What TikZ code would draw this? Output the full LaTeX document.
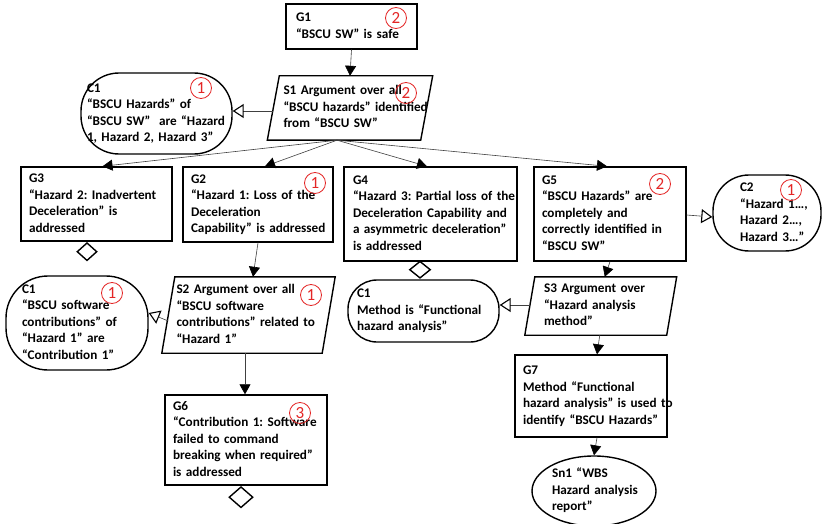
\documentclass[tikz,border=0pt]{standalone}
\usepackage{fontspec}
\setmainfont{Carlito}
\usetikzlibrary{arrows.meta,shapes.geometric}
\definecolor{badgered}{RGB}{228,38,38}
\frenchspacing
% one left-aligned block of lines, never re-wrapped
\newcommand\gsnlines[1]{\begin{tabular}{@{}l@{}}#1\end{tabular}}
\begin{document}
\begin{tikzpicture}[x=1pt,y=-1pt,
  txt/.style={font=\fontsize{13.2}{16.5}\selectfont\bfseries, align=left, inner ysep=0pt},
  goal/.style={txt, draw, rectangle, line width=1.4pt},
  ctxbox/.style={txt, draw, rectangle, line width=1.4pt, rounded corners=#1},
  strat/.style={txt, rectangle},
  paraline/.style={draw, line width=1.4pt, line join=miter},
  sol/.style={txt, draw, ellipse, line width=1.4pt, inner xsep=0pt},
  undev/.style={draw, diamond, line width=1.4pt, inner sep=0pt, fill=white},
  badge/.style={circle, draw=badgered, text=badgered, line width=0.8pt,
    minimum size=21pt, inner sep=0pt, font=\fontsize{17}{17}\selectfont},
  link/.style={draw=black!75, line width=0.6pt,
    -{Triangle[length=10pt,width=11pt,color=black]}},
  ctxlink/.style={draw=black!75, line width=0.6pt,
    -{Triangle[open,length=11pt,width=14pt,line width=1.1pt,color=black]}}
]
\path[use as bounding box, fill=white] (0,0) rectangle (822,524);

% goals
\node[goal, minimum width=131, minimum height=45, text width=111, inner xsep=10] (g1) at (351.5,26.5)
  {\gsnlines{G1\\“BSCU SW” is safe}};
\node[goal, minimum width=151, minimum height=74, text width=135, inner xsep=8] (g3) at (96.5,204)
  {\gsnlines{G3\\“Hazard 2: Inadvertent\\Deceleration” is\\addressed}};
\node[goal, minimum width=150, minimum height=75, text width=134, inner xsep=8] (g2) at (258,204.5)
  {\gsnlines{G2\\“Hazard 1: Loss of the\\Deceleration\\Capability” is addressed}};
\node[goal, minimum width=173, minimum height=94, text width=155, inner xsep=9] (g4) at (430.5,214)
  {\gsnlines{G4\\“Hazard 3: Partial loss of the\\Deceleration Capability and\\a asymmetric deceleration”\\is addressed}};
\node[goal, minimum width=152, minimum height=94, text width=136, inner xsep=8] (g5) at (610,214)
  {\gsnlines{G5\\“BSCU Hazards” are\\completely and\\correctly identified in\\“BSCU SW”}};
\node[goal, minimum width=162, minimum height=90, text width=146, inner xsep=8] (g6) at (246,440)
  {\gsnlines{G6\\“Contribution 1: Software\\failed to command\\breaking when required”\\is addressed}};
\node[goal, minimum width=152, minimum height=82, text width=136, inner xsep=8] (g7) at (591,396)
  {\gsnlines{G7\\Method “Functional\\hazard analysis” is used to\\identify “BSCU Hazards”}};

% strategies (parallelograms drawn around the text nodes)
\node[strat, minimum width=153, minimum height=64, text width=133, inner xsep=10] (s1) at (350,108)
  {\gsnlines{S1 Argument over all\\“BSCU hazards” identified\\from “BSCU SW”}};
\node[strat, minimum width=160, minimum height=76, text width=144, inner xsep=8] (s2) at (248.5,315)
  {\gsnlines{S2 Argument over all\\“BSCU software\\contributions” related to\\“Hazard 1”}};
\node[strat, minimum width=141.5, minimum height=58, text width=113.5, inner xsep=14] (s3) at (600.75,306)
  {\gsnlines{S3 Argument over\\“Hazard analysis\\method”}};
\draw[paraline] ([xshift=6pt]s1.north west) -- ([xshift=6pt]s1.north east)
  -- ([xshift=-6pt]s1.south east) -- ([xshift=-6pt]s1.south west) -- cycle;
\draw[paraline] ([xshift=6.5pt]s2.north west) -- ([xshift=6.5pt]s2.north east)
  -- ([xshift=-6.5pt]s2.south east) -- ([xshift=-6.5pt]s2.south west) -- cycle;
\draw[paraline] ([xshift=5pt]s3.north west) -- ([xshift=5pt]s3.north east)
  -- ([xshift=-5pt]s3.south east) -- ([xshift=-5pt]s3.south west) -- cycle;

% contexts
\node[ctxbox=38pt, minimum width=151, minimum height=81, text width=139, inner xsep=6] (c1a) at (156.5,113.5)
  {\gsnlines{C1\\“BSCU Hazards” of\\“BSCU SW”\ \ are “Hazard\\1, Hazard 2, Hazard 3”}};
\node[ctxbox=36pt, minimum width=108, minimum height=76, text width=54, inner xsep=27] (c2) at (767,213)
  {\gsnlines{C2\\“Hazard 1…,\\Hazard 2…,\\Hazard 3…”}};
\node[ctxbox=42pt, minimum width=142, minimum height=94, text width=110, inner xsep=16] (c1b) at (77,323)
  {\gsnlines{C1\\“BSCU software\\contributions” of\\“Hazard 1” are\\“Contribution 1”}};
\node[ctxbox=29pt, minimum width=151, minimum height=62, text width=133, inner xsep=9] (c1c) at (423.5,311)
  {\gsnlines{C1\\Method is “Functional\\hazard analysis”}};

% solution
\node[sol, minimum width=124, minimum height=70, text width=84] (sn1) at (594,491)
  {\gsnlines{Sn1 “WBS\\Hazard analysis\\report”}};

% undeveloped markers
\node[undev, minimum width=20, minimum height=18, anchor=north] (g3u) at (87,242) {};
\node[undev, minimum width=21, minimum height=17, anchor=north] (g4u) at (420,260.5) {};
\node[undev, minimum width=24, minimum height=21, anchor=north] (g6u) at (241,486) {};

% supported-by links
\draw[link] (g1.south) -- (s1.north);
\coordinate (s1fan) at ([xshift=-13pt]s1.south);
\draw[link] (s1fan) -- ([xshift=6pt]g3.north);
\draw[link] (s1fan) -- ([xshift=7pt]g2.north);
\draw[link] (s1fan) -- ([xshift=-3.5pt]g4.north);
\draw[link] (s1fan) -- ([xshift=-3pt]g5.north);
\draw[link] (g2.south) -- ([xshift=4.5pt]s2.north);
\draw[link] ([xshift=-3.5pt]s2.south) -- ([xshift=-1pt]g6.north);
\draw[link] (g5.south) -- ([xshift=4pt]s3.north);
\draw[link] ([xshift=-1pt]s3.south) -- ([xshift=6pt]g7.north);
\draw[link] ([xshift=6pt]g7.south) -- (sn1.north);

% in-context-of links
\draw[ctxlink] ([yshift=-3pt]s1.west) -- ([yshift=2.5pt]c1a.east);
\draw[ctxlink] ([yshift=-6pt]s2.west) -- ([yshift=10pt]c1b.east);
\draw[ctxlink] ([yshift=-1pt]g5.east) -- ([yshift=-4pt]c2.west);
\draw[ctxlink] ([yshift=1pt]s3.west) -- ([yshift=6pt]c1c.east);

% circled numbers
\node[badge] (n-g1) at (396,18) {2};
\node[badge] (n-s1) at (406,93) {2};
\node[badge] (n-c1a) at (201,88) {1};
\node[badge] (n-g2) at (315,183) {1};
\node[badge] (n-g5) at (660,184) {2};
\node[badge] (n-c2) at (791,190) {1};
\node[badge] (n-c1b) at (112,293) {1};
\node[badge] (n-s2) at (311,295) {1};
\node[badge] (n-g6) at (300,413) {3};
\end{tikzpicture}
\end{document}
